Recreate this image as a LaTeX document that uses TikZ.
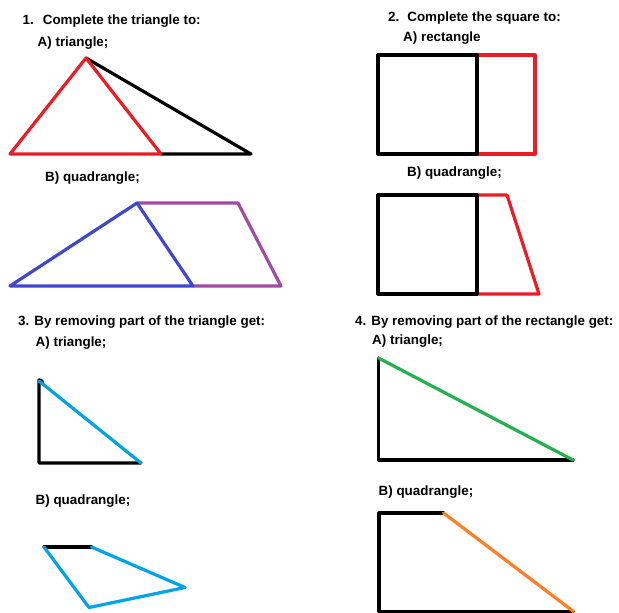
\documentclass[tikz,border=0pt]{standalone}
\usepackage{fontspec}
\setmainfont{Liberation Sans}
\definecolor{pred}{HTML}{ED1C24}
\definecolor{pblue}{HTML}{3F48CC}
\definecolor{ppurple}{HTML}{A349A4}
\definecolor{plight}{HTML}{00A2E8}
\definecolor{pgreen}{HTML}{22B14C}
\definecolor{porange}{HTML}{FF7F27}
\tikzset{
  lbl/.style={anchor=base west, inner sep=0pt, font=\fontsize{13.4}{16}\selectfont\bfseries},
  stroke/.style={line width=3.2pt, line cap=round, line join=round},
}
\begin{document}
\begin{tikzpicture}[x=1pt,y=-1pt]
\useasboundingbox[fill=white] (0,0) rectangle (619,613);

% ---------- Panel 1 ----------
\node[lbl] (t1) at (22.5,24.5) {1.\hspace{9pt}Complete the triangle to:};
\node[lbl] (t1a) at (37.5,46.5) {A) triangle;};
\coordinate (p1apex) at (86,58);
\coordinate (p1l) at (10,154);
\coordinate (p1m) at (161,154);
\coordinate (p1r) at (251,154);
\draw[stroke,black] (p1apex) -- (p1r) -- (p1m);
\draw[stroke,pred] (p1apex) -- (p1l) -- (p1m) -- cycle;

\node[lbl] (t1b) at (45,181.5) {B) quadrangle;};
\coordinate (q1apex) at (137,203);
\coordinate (q1l) at (10,286);
\coordinate (q1m) at (193,286);
\coordinate (q1tr) at (238,203);
\coordinate (q1br) at (281,286);
\draw[stroke,ppurple] (q1apex) -- (q1tr) -- (q1br) -- (q1m);
\draw[stroke,pblue] (q1apex) -- (q1l) -- (q1m) -- cycle;

% ---------- Panel 2 ----------
\node[lbl] (t2) at (388,21.5) {2.\hspace{8pt}Complete the square to:};
\node[lbl] (t2a) at (403,41) {A) rectangle};
\draw[stroke,pred] (477,55) coordinate (s2tr) -- (535,55) coordinate (r2tr) -- (535,154) coordinate (r2br) -- (477,154) coordinate (s2br);
\draw[stroke,black] (378,55) coordinate (s2tl) rectangle (477,154);

\node[lbl] (t2b) at (407,176) {B) quadrangle;};
\draw[stroke,pred] (477,195) coordinate (u2tr) -- (507,195) coordinate (v2tr) -- (539,294) coordinate (v2br) -- (477,294) coordinate (u2br);
\draw[stroke,black] (378,195) coordinate (u2tl) rectangle (477,294);

% ---------- Panel 3 ----------
\node[lbl] (t3) at (18,325.5) {3.\hspace{5pt}By removing part of the triangle get:};
\node[lbl] (t3a) at (35.5,346) {A) triangle;};
\coordinate (a3t) at (39,381);
\coordinate (a3bl) at (39,463);
\coordinate (a3br) at (141,463);
\draw[stroke,black] (42.5,382) .. controls (41,380) .. (39,380) -- (a3bl) -- (a3br);
\draw[stroke,plight] (a3t) -- (a3br);

\node[lbl] (t3b) at (35.5,504) {B) quadrangle;};
\coordinate (b3tl) at (44,547);
\coordinate (b3tr) at (91.5,547);
\coordinate (b3r) at (185,587.5);
\coordinate (b3b) at (89,607.5);
\draw[stroke,black] (b3tl) -- (b3tr);
\draw[stroke,plight] (b3tr) -- (b3r) -- (b3b) -- (b3tl);

% ---------- Panel 4 ----------
\node[lbl] (t4) at (355,325.7) {4. By removing part of the rectangle get:};
\node[lbl] (t4a) at (372,344) {A) triangle;};
\coordinate (a4t) at (378.5,358);
\coordinate (a4bl) at (378.5,460);
\coordinate (a4br) at (573,460);
\draw[stroke,black] (a4t) -- (a4bl) -- (a4br);
\draw[stroke,pgreen] (a4t) -- (a4br);

\node[lbl] (t4b) at (378.5,495.5) {B) quadrangle;};
\coordinate (b4tl) at (379,513);
\coordinate (b4tm) at (443.5,513);
\coordinate (b4bl) at (379,611.5);
\coordinate (b4br) at (573.5,611.5);
\draw[stroke,black] (b4tm) -- (b4tl) -- (b4bl) -- (b4br);
\draw[stroke,porange] (b4tm) -- (b4br);
\end{tikzpicture}
\end{document}
